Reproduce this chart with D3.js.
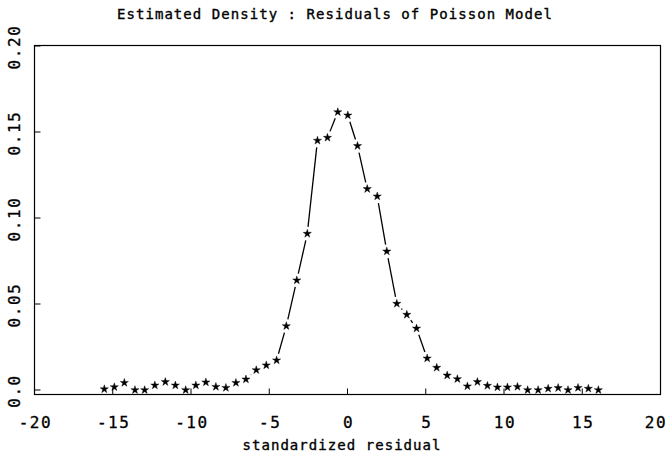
<!DOCTYPE html>
<html><head><meta charset="utf-8">
<script src="https://cdn.jsdelivr.net/npm/d3@7"></script>
<style>body{margin:0;background:#fff}</style>
</head><body><svg id="c" width="671" height="459"></svg>
<script>
const residual = [-15.54,-14.90,-14.26,-13.58,-12.96,-12.31,-11.64,-11.00,-10.34,-9.69,-9.05,-8.41,-7.77,-7.13,-6.49,-5.83,-5.19,-4.53,-3.91,-3.24,-2.57,-1.92,-1.28,-0.62,0.02,0.64,1.26,1.90,2.51,3.15,3.79,4.41,5.09,5.70,6.37,7.02,7.66,8.30,8.94,9.58,10.22,10.86,11.51,12.18,12.82,13.46,14.09,14.73,15.39,16.03];
const density = [0.0005,0.0017,0.0042,0.0,0.0,0.0027,0.0047,0.0027,0.0,0.0027,0.0045,0.0019,0.0013,0.0042,0.0062,0.0116,0.0144,0.0173,0.0372,0.0638,0.0909,0.1450,0.1467,0.1616,0.1597,0.1419,0.1169,0.1126,0.0806,0.0502,0.0438,0.0358,0.0184,0.0130,0.0085,0.0064,0.0022,0.0047,0.0025,0.0016,0.0016,0.0019,0.0,0.0,0.0008,0.0012,0.0,0.0013,0.0008,0.0];
const xTicks = [-20,-15,-10,-5,0,5,10,15,20];
const xTickLabels = ["-20","-15","-10","-5","0","5","10","15","20"];
const yTicks = [0,0.05,0.10,0.15,0.20];
const yTickLabels = ["0.0","0.05","0.10","0.15","0.20"];
const titleText = "Estimated Density : Residuals of Poisson Model";
const xLabelText = "standardized residual";

const svg = d3.select("#c");
const font = "'DejaVu Sans Mono', 'Liberation Mono', monospace";
const x = d3.scaleLinear().domain([-20,20]).range([34.5,660.5]);
const y = d3.scaleLinear().domain([0,0.2]).range([390,46]);
const fLeft = 34.5, fRight = 660.5, fTop = 45.5, fBottom = 394.5;

// frame
svg.append("rect").attr("x",fLeft).attr("y",fTop).attr("width",fRight-fLeft).attr("height",fBottom-fTop)
  .attr("fill","none").attr("stroke","#000").attr("stroke-width",1.2);

// y ticks (inward)
svg.selectAll(".yt").data(yTicks).enter().append("line")
  .attr("x1",fLeft).attr("x2",fLeft+6).attr("y1",d=>y(d)).attr("y2",d=>y(d))
  .attr("stroke","#000").attr("stroke-width",1);
svg.selectAll(".yl").data(yTicks).enter().append("text")
  .attr("transform",d=>`translate(20,${y(d)+1}) rotate(-90)`)
  .attr("text-anchor","middle").attr("font-family",font).attr("font-size",16)
  .attr("letter-spacing",1.6).attr("fill","#000")
  .attr("stroke","#000").attr("stroke-width",0.3)
  .text((d,i)=>yTickLabels[i]);

// x ticks (inward)
svg.selectAll(".xt").data(xTicks).enter().append("line")
  .attr("x1",d=>x(d)).attr("x2",d=>x(d)).attr("y1",fBottom).attr("y2",fBottom-6)
  .attr("stroke","#000").attr("stroke-width",1);
svg.selectAll(".xl").data(xTicks).enter().append("text")
  .attr("x",d=>Math.min(x(d)+1, 656)).attr("y",428)
  .attr("text-anchor","middle").attr("font-family",font).attr("font-size",16)
  .attr("letter-spacing",1.6).attr("fill","#000")
  .attr("stroke","#000").attr("stroke-width",0.3)
  .text((d,i)=>xTickLabels[i]);

// title & axis label
svg.append("text").attr("x",335).attr("y",19).attr("text-anchor","middle")
  .attr("font-family",font).attr("font-size",14).attr("letter-spacing",1.05)
  .attr("stroke","#000").attr("stroke-width",0.35).text(titleText);
svg.append("text").attr("x",342).attr("y",450).attr("text-anchor","middle")
  .attr("font-family",font).attr("font-size",14).attr("letter-spacing",1.05)
  .attr("stroke","#000").attr("stroke-width",0.35).text(xLabelText);

// connecting segments with gaps around points (type "b")
const pts = residual.map((r,i)=>[x(r), y(density[i])]);
const gap = 6.8;
for (let i=0;i<pts.length-1;i++){
  const [x1,y1]=pts[i],[x2,y2]=pts[i+1];
  const dx=x2-x1, dy=y2-y1, L=Math.hypot(dx,dy);
  if (L<=2*gap) continue;
  const ux=dx/L, uy=dy/L;
  svg.append("line").attr("x1",x1+ux*gap).attr("y1",y1+uy*gap)
    .attr("x2",x2-ux*gap).attr("y2",y2-uy*gap)
    .attr("stroke","#000").attr("stroke-width",1.3);
}

// stars
const star = d3.symbol().type(d3.symbolStar).size(21);
svg.selectAll(".pt").data(residual).enter().append("path")
  .attr("d",star).attr("transform",(d,i)=>`translate(${x(d)},${y(density[i])})`)
  .attr("fill","#000").attr("stroke","#000").attr("stroke-width",0.4);
</script></body></html>
